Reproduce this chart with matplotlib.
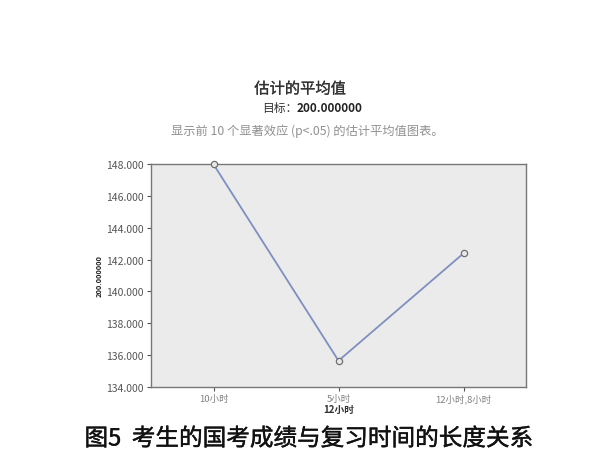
import matplotlib
matplotlib.use("Agg")
import matplotlib.pyplot as plt
import matplotlib.patheffects as pe

plt.rcParams['font.family'] = ['Noto Sans CJK SC', 'DejaVu Sans']

categories = ["10小时", "5小时", "12小时,8小时"]
values = [147.98, 135.65, 142.39]
y_ticks = [134, 136, 138, 140, 142, 144, 146, 148]
y_tick_labels = ["%.3f" % v for v in y_ticks]

W, H = 600, 460
fig = plt.figure(figsize=(6, 4.6), dpi=100)
fig.patch.set_facecolor("white")

left, right, top, bottom = 151, 526, 165, 388
ax = fig.add_axes([left / W, 1 - bottom / H, (right - left) / W, (bottom - top) / H])
ax.set_facecolor("#ebebeb")

x = list(range(len(categories)))
ax.plot(x, values, color="#7f8fbf", lw=1.3, marker="o", ms=4.5,
        mfc="#e8e8e8", mec="#707070", mew=0.9, zorder=3, clip_on=False)

ax.set_xlim(-0.5, 2.5)
ax.set_ylim(134, 148)
ax.set_yticks(y_ticks)
ax.set_yticklabels(y_tick_labels, fontsize=7.5, color="#555555")
ax.set_xticks(x)
ax.set_xticklabels(categories, fontsize=6.8, color="#808080")
ax.tick_params(axis="both", length=3, width=0.8, color="#555555", pad=2)
for s in ax.spines.values():
    s.set_color("#777777")
    s.set_linewidth(1.0)

ax.set_xlabel("12小时", fontsize=7, fontweight="bold", color="#333333", labelpad=0)
ax.set_ylabel("200.000000", fontsize=5.3, fontweight="bold", color="#222222", labelpad=3)

fig.text(0.5, 1 - 90 / H, "估计的平均值", ha="center", va="center",
         fontsize=11, color="#333333",
         path_effects=[pe.withStroke(linewidth=0.2, foreground="#333333")])
fig.text(297 / W, 1 - 109 / H, "目标：", ha="right", va="center", fontsize=8.5, color="#333333")
fig.text(297 / W, 1 - 109 / H, "200.000000", ha="left", va="center", fontsize=8.5,
         fontweight="bold", color="#222222")
fig.text(307 / W, 1 - 131 / H, "显示前 10 个显著效应 (p<.05) 的估计平均值图表。", ha="center",
         va="center", fontsize=8.8, color="#909090")

fig.text(309 / W, 1 - 440 / H, "图5  考生的国考成绩与复习时间的长度关系", ha="center", va="center",
         fontsize=17, color="#111111",
         path_effects=[pe.withStroke(linewidth=0.3, foreground="#111111")])

fig.savefig("out.png", dpi=100)
